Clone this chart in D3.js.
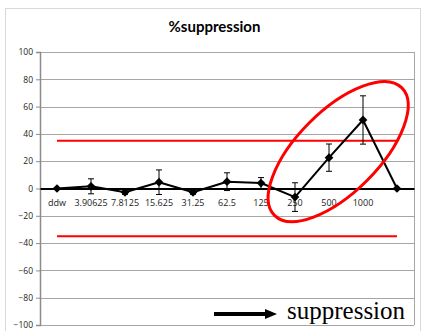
<!DOCTYPE html>
<html><head><meta charset="utf-8">
<script src="https://cdn.jsdelivr.net/npm/d3@7"></script>
<style>
html,body{margin:0;padding:0;background:#fff;}
svg{display:block;}
</style></head>
<body>
<svg id="chart" width="421" height="331"></svg>
<script>
// ---- data ----
const categories = ["ddw","3.90625","7.8125","15.625","31.25","62.5","125","250","500","1000",""];
const values     = [0, 1.6, -2.8, 4.6, -2.8, 5, 4, -6.3, 22.6, 50.2, 0];
const errors     = [0, 5.5, 1.5, 9, 1.5, 6.5, 4, 10.5, 10, 17.7, 0];
const thresholds = [35, -35];
const yTicks     = [-100,-80,-60,-40,-20,0,20,40,60,80,100];
const title      = "%suppression";
const noteText   = "suppression";

// ---- layout ----
const W = 421, H = 331;
const plot = {left: 40, right: 414, top: 52, bottom: 325};
const svg = d3.select("#chart");

svg.append("rect").attr("x",5.5).attr("y",8.5).attr("width",415).attr("height",340)
  .attr("fill","#fff").attr("stroke","#d9d9d9").attr("stroke-width",1);

const idx = categories.map((d,i)=>i);
const x = d3.scaleBand().domain(idx).range([plot.left, plot.right]).padding(0);
const xc = i => x(i) + x.bandwidth()/2;
const y = d3.scaleLinear().domain([-100,100]).range([plot.bottom, plot.top]);

// gridlines
svg.append("g").selectAll("line").data(yTicks).join("line")
  .attr("x1",plot.left).attr("x2",plot.right)
  .attr("y1",d=>Math.round(y(d))+0.5).attr("y2",d=>Math.round(y(d))+0.5)
  .attr("stroke","#a6a6a6").attr("stroke-width",1);

// right border
svg.append("line").attr("x1",plot.right+0.5).attr("x2",plot.right+0.5)
  .attr("y1",y(100)).attr("y2",y(-100)).attr("stroke","#a6a6a6");

// y axis
const yAxis = svg.append("g").attr("transform",`translate(${plot.left},0)`)
  .call(d3.axisLeft(y).tickValues(yTicks).tickSize(4).tickPadding(3).tickFormat(d3.format("d")));
yAxis.select(".domain").attr("stroke","#8c8c8c").attr("stroke-width",1.5);
yAxis.selectAll(".tick line").attr("stroke","#8c8c8c");
yAxis.selectAll("text").attr("font-family","'Open Sans', Arial, sans-serif").attr("font-size","8.5px").attr("fill","#222");

// threshold lines
svg.append("g").selectAll("line").data(thresholds).join("line")
  .attr("x1",xc(0)).attr("x2",xc(categories.length-1))
  .attr("y1",d=>y(d)).attr("y2",d=>y(d))
  .attr("stroke","#ff0000").attr("stroke-width",2);

// x axis at zero
const xAxis = svg.append("g").attr("transform",`translate(0,${y(0)})`)
  .call(d3.axisBottom(x).tickSize(0).tickPadding(11).tickFormat(i=>categories[i]));
xAxis.select(".domain").attr("stroke","#000").attr("stroke-width",2);
xAxis.selectAll("text").attr("font-family","'Open Sans', Arial, sans-serif").attr("font-size","9px").attr("fill","#222");

// series line
const line = d3.line().x((d,i)=>xc(i)).y(d=>y(d));
svg.append("path").datum(values).attr("d",line)
  .attr("fill","none").attr("stroke","#000").attr("stroke-width",2).attr("stroke-linejoin","round");

// error bars
const eb = svg.append("g").attr("stroke","#000").attr("stroke-width",1);
values.forEach((v,i)=>{
  const e = errors[i]; if(!e) return;
  const cx = xc(i);
  eb.append("line").attr("x1",cx).attr("x2",cx).attr("y1",y(v+e)).attr("y2",y(v-e));
  eb.append("line").attr("x1",cx-3).attr("x2",cx+3).attr("y1",y(v+e)).attr("y2",y(v+e));
  eb.append("line").attr("x1",cx-3).attr("x2",cx+3).attr("y1",y(v-e)).attr("y2",y(v-e));
});

// markers (diamonds = rotated squares)
svg.append("g").selectAll("path").data(values).join("path")
  .attr("d",d3.symbol().type(d3.symbolSquare).size(38))
  .attr("transform",(d,i)=>`translate(${xc(i)},${y(d)}) rotate(45)`)
  .attr("fill","#000");

// title
svg.append("text").attr("x",214.5).attr("y",32).attr("text-anchor","middle")
  .attr("font-family","Lato, 'Open Sans', sans-serif").attr("font-weight","bold").attr("font-size","15px")
  .attr("fill","#000").text(title);

// ellipse annotation (around 250..1000)
const bw = x.bandwidth();
const ecx = xc(8) + 0.27*bw, ecy = y(27);
svg.append("ellipse")
  .attr("cx", ecx).attr("cy", ecy)
  .attr("rx", 2.65*bw).attr("ry", 1.2*bw)
  .attr("transform", `rotate(-45 ${ecx} ${ecy})`)
  .attr("fill","none").attr("stroke","#ff0000").attr("stroke-width",3);

// arrow + note
const ay = 314;
svg.append("line").attr("x1",214).attr("x2",266).attr("y1",ay).attr("y2",ay)
  .attr("stroke","#000").attr("stroke-width",4);
svg.append("path").attr("d",`M265,${ay-5}L277,${ay}L265,${ay+5}Z`).attr("fill","#000");
svg.append("text").attr("x",287).attr("y",319)
  .attr("font-family","'Liberation Serif', 'Times New Roman', serif").attr("font-size","25px")
  .attr("fill","#000").text(noteText);
</script>
</body></html>
